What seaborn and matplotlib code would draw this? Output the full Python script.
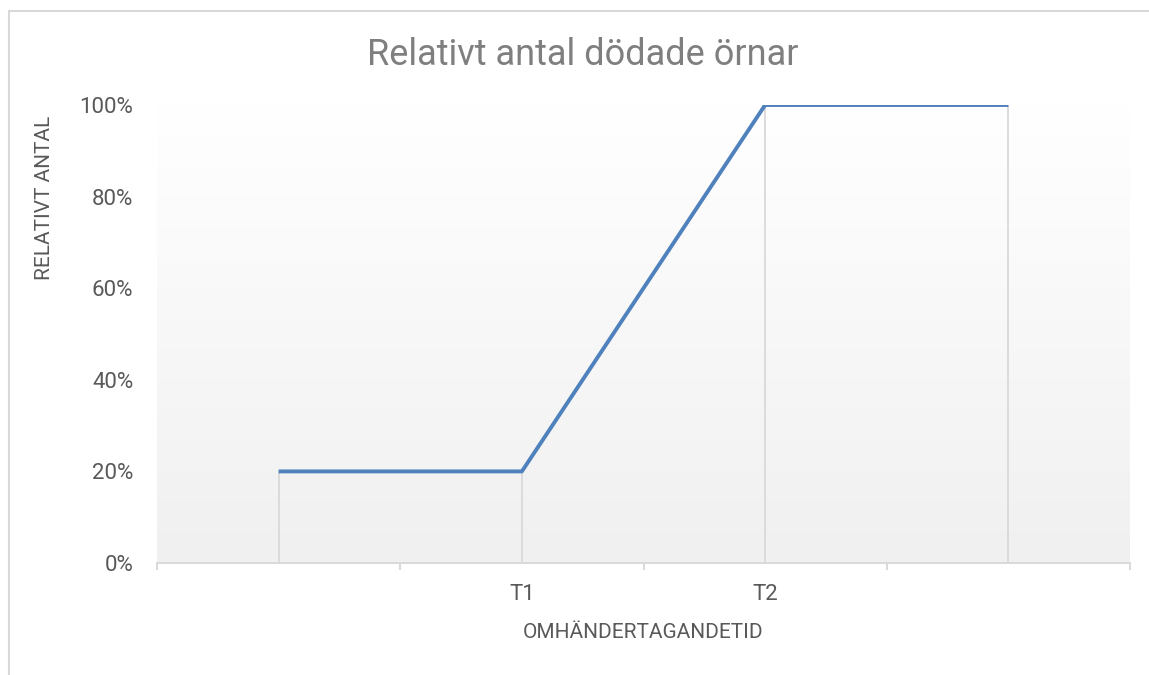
import numpy as np
import pandas as pd
import matplotlib.pyplot as plt
from matplotlib.lines import Line2D
import seaborn as sns

# data
categories = ["", "T1", "T2", ""]
relativt_antal = [0.20, 0.20, 1.00, 1.00]
y_ticks = [0.0, 0.2, 0.4, 0.6, 0.8, 1.0]
y_tick_labels = ["0%", "20%", "40%", "60%", "80%", "100%"]

df = pd.DataFrame({"pos": range(len(categories)), "andel": relativt_antal})

sns.set_theme(style="white")
plt.rcParams["font.family"] = ["Roboto", "DejaVu Sans"]

text_grey = "#595959"
line_grey = "#d9d9d9"

fig = plt.figure(figsize=(11.49, 6.75), dpi=100)
W, H = 1149, 675
ax = fig.add_axes([157 / W, 1 - 563 / H, (1130 - 157) / W, (563 - 105) / H])

# soft vertical gradient in plot area (white -> light grey)
grad = np.linspace(0, 1, 256).reshape(-1, 1)
ax.imshow(grad, extent=[-0.5, 3.5, 0, 1.0], aspect="auto", origin="upper",
          cmap=sns.blend_palette(["#ffffff", "#f0f0f0"], as_cmap=True),
          zorder=0, clip_on=False)

# drop lines from points to the axis
ax.vlines(df["pos"], 0, df["andel"], color=line_grey, lw=1.3, zorder=1)

sns.lineplot(data=df, x="pos", y="andel", color="#4f81bd", lw=2.8, ax=ax,
             zorder=3, solid_capstyle="butt")

ax.set_xlim(-0.5, len(categories) - 0.5)
ax.set_ylim(0, 1.0)
ax.set_yticks(y_ticks)
ax.set_yticklabels(y_tick_labels)
ax.set_xticks(df["pos"])
ax.set_xticklabels(categories)
ax.set_xticks(np.arange(-0.5, len(categories)), minor=True)

for s in ["top", "right", "left"]:
    ax.spines[s].set_visible(False)
ax.spines["bottom"].set_color(line_grey)
ax.spines["bottom"].set_linewidth(1.4)

ax.tick_params(axis="y", length=0, pad=17, labelsize=16, labelcolor=text_grey)
ax.tick_params(axis="x", which="major", length=0, pad=15, labelsize=16,
               labelcolor=text_grey)
ax.tick_params(axis="x", which="minor", bottom=True, length=5, width=1.4,
               color=line_grey)
ax.grid(False)

ax.set_xlabel("OMHÄNDERTAGANDETID", fontsize=15, color=text_grey)
ax.xaxis.set_label_coords(0.5, (563 - 632) / 458)
ax.xaxis.label.set_va("center")
ax.set_ylabel("RELATIVT ANTAL", fontsize=15, color=text_grey)
ax.yaxis.set_label_coords((45 - 157) / 973, (563 - 198) / 458)
ax.yaxis.label.set_va("center")

fig.text(583 / W, 1 - 55 / H, "Relativt antal dödade örnar", ha="center",
         va="center", fontsize=26, color="#7f7f7f")

# outer chart frame (left and top edges visible)
fig.add_artist(Line2D([8.5 / W, 8.5 / W], [0, 1 - 11 / H], color=line_grey,
                      lw=1.5, transform=fig.transFigure))
fig.add_artist(Line2D([8.5 / W, 1], [1 - 11 / H, 1 - 11 / H], color=line_grey,
                      lw=1.5, transform=fig.transFigure))

fig.savefig("out.png", dpi=100)
